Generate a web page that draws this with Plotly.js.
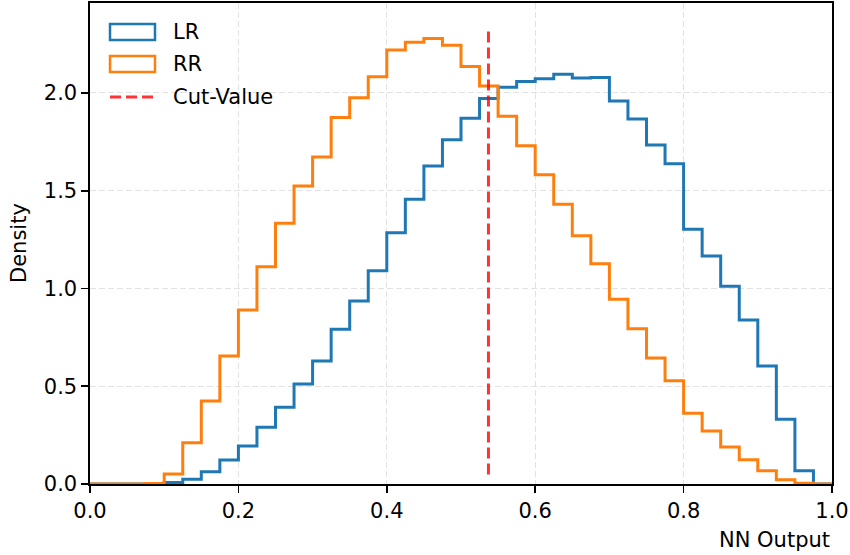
<!DOCTYPE html>
<html>
<head>
<meta charset="utf-8">
<script src="https://cdn.plot.ly/plotly-3.0.1.min.js"></script>
<style>
  html, body { margin: 0; padding: 0; background: #ffffff; }
  #chart { width: 850px; height: 555px; }
</style>
</head>
<body>
<div id="chart"></div>
<script>
// Normalised NN-output histograms (density), 40 bins of width 0.025 over [0, 1]
const BIN_WIDTH = 0.025;

const lrDensity = [
  0, 0, 0, 0, 0.008, 0.024, 0.063, 0.123, 0.194, 0.290,
  0.392, 0.512, 0.629, 0.791, 0.936, 1.090, 1.285, 1.456, 1.627, 1.760,
  1.871, 1.971, 2.029, 2.058, 2.072, 2.096, 2.077, 2.079, 1.959, 1.867,
  1.734, 1.638, 1.303, 1.166, 1.011, 0.839, 0.604, 0.331, 0.068, 0
];

const rrDensity = [
  0, 0, 0, 0.003, 0.051, 0.211, 0.425, 0.655, 0.890, 1.111,
  1.334, 1.524, 1.673, 1.874, 1.976, 2.083, 2.220, 2.259, 2.278, 2.244,
  2.135, 2.036, 1.881, 1.730, 1.581, 1.431, 1.269, 1.127, 0.945, 0.794,
  0.645, 0.528, 0.362, 0.271, 0.189, 0.124, 0.068, 0.022, 0.004, 0
];

const cutValue = 0.537;

const seriesNames = ["LR", "RR", "Cut-Value"];
const seriesColors = ["#1f77b4", "#ff7f0e", "rgba(255,0,0,0.8)"];

const xTicks = [0.0, 0.2, 0.4, 0.6, 0.8, 1.0];
const yTicks = [0.0, 0.5, 1.0, 1.5, 2.0];
const xRange = [0, 1];
const yRange = [0, 2.46];

// Outline of a step histogram: start on the baseline, climb to each bin,
// and drop back to the baseline at the last edge.
function stepOutline(values) {
  const xs = [0];
  const ys = [0];
  values.forEach((v, i) => { xs.push(i * BIN_WIDTH); ys.push(v); });
  xs.push(values.length * BIN_WIDTH);
  ys.push(0);
  return { x: xs, y: ys };
}

const lr = stepOutline(lrDensity);
const rr = stepOutline(rrDensity);

const traces = [
  {
    type: "scatter", mode: "lines", name: seriesNames[0],
    x: lr.x, y: lr.y,
    line: { shape: "hv", color: seriesColors[0], width: 3 },
    showlegend: false, hoverinfo: "skip"
  },
  {
    type: "scatter", mode: "lines", name: seriesNames[1],
    x: rr.x, y: rr.y,
    line: { shape: "hv", color: seriesColors[1], width: 3 },
    showlegend: false, hoverinfo: "skip"
  }
];

// Plot-area geometry in pixels, used to place the hand-drawn legend
const M = { l: 90, r: 18, t: 3, b: 71 };
const W = 850, H = 555;
const plotW = W - M.l - M.r, plotH = H - M.t - M.b;
const px = x => (x - M.l) / plotW;
const py = y => (H - M.b - y) / plotH;

const FONT = "DejaVu Sans, Liberation Sans, sans-serif";
const FS = 21;

const shapes = [
  // vertical cut line
  {
    type: "line", xref: "x", yref: "y domain",
    x0: cutValue, x1: cutValue, y0: 0.02, y1: 0.95,
    line: { color: seriesColors[2], width: 3, dash: "11px,5px" }
  },
  // legend handles
  {
    type: "rect", xref: "paper", yref: "paper",
    x0: px(110), x1: px(155), y0: py(40), y1: py(24),
    line: { color: seriesColors[0], width: 2.5 }, fillcolor: "rgba(0,0,0,0)"
  },
  {
    type: "rect", xref: "paper", yref: "paper",
    x0: px(110), x1: px(155), y0: py(72), y1: py(56),
    line: { color: seriesColors[1], width: 2.5 }, fillcolor: "rgba(0,0,0,0)"
  },
  {
    type: "line", xref: "paper", yref: "paper",
    x0: px(110), x1: px(153), y0: py(97), y1: py(97),
    line: { color: seriesColors[2], width: 3, dash: "11px,5px" }
  }
];

const legendRows = [32, 64, 97];
const annotations = seriesNames.map((name, i) => ({
  xref: "paper", yref: "paper",
  x: px(171), y: py(legendRows[i]),
  xanchor: "left", yanchor: "middle",
  text: name, showarrow: false,
  font: { family: FONT, size: FS, color: "#000000" }
}));

annotations.push({
  xref: "paper", yref: "paper",
  x: px(832), y: py(540),
  xanchor: "right", yanchor: "middle",
  text: "NN Output", showarrow: false,
  font: { family: FONT, size: FS, color: "#000000" }
});
annotations.push({
  xref: "paper", yref: "paper",
  x: px(19), y: py(243),
  xanchor: "center", yanchor: "middle",
  text: "Density", textangle: -90, showarrow: false,
  font: { family: FONT, size: FS, color: "#000000" }
});

const axisCommon = {
  showline: true, mirror: true, linecolor: "#000000", linewidth: 1.6,
  ticks: "outside", ticklen: 7, tickwidth: 1.6, tickcolor: "#000000",
  tickfont: { family: FONT, size: FS, color: "#000000" },
  showgrid: true, gridcolor: "#e2e2e2", gridwidth: 1, griddash: "6px,3px",
  zeroline: false, tickformat: ".1f", fixedrange: true
};

const layout = {
  width: W, height: H,
  margin: M,
  paper_bgcolor: "#ffffff", plot_bgcolor: "#ffffff",
  showlegend: false,
  xaxis: Object.assign({}, axisCommon, {
    range: xRange, tickmode: "array", tickvals: xTicks
  }),
  yaxis: Object.assign({}, axisCommon, {
    range: yRange, tickmode: "array", tickvals: yTicks
  }),
  shapes: shapes,
  annotations: annotations
};

Plotly.newPlot("chart", traces, layout, { displayModeBar: false, staticPlot: true });
</script>
</body>
</html>
